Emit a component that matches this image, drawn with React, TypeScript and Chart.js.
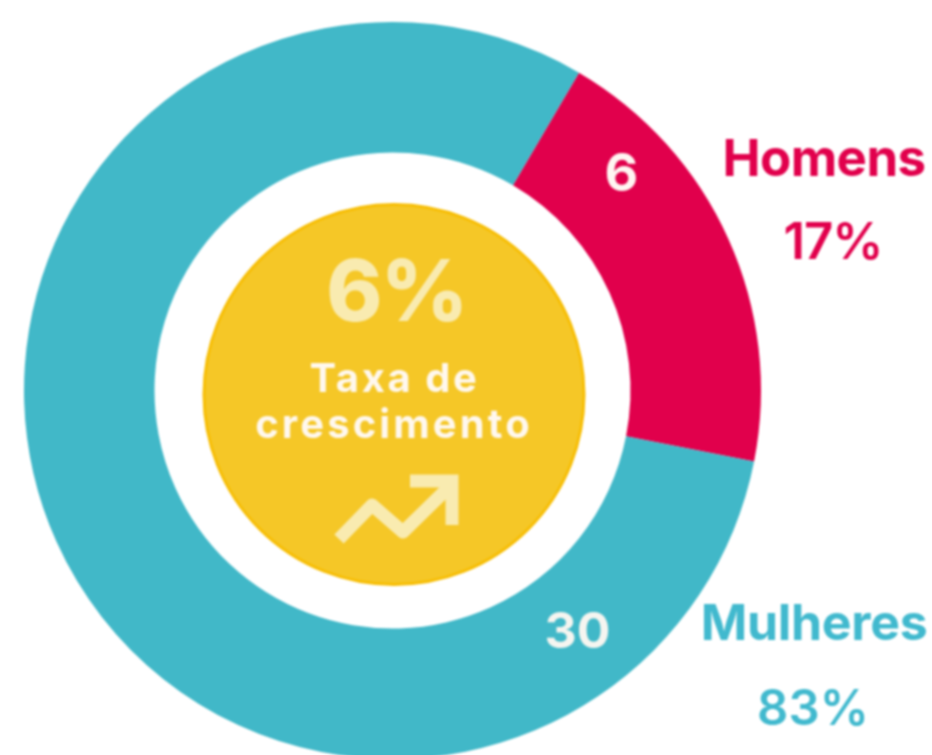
import React, { useEffect, useRef } from "react";
import { Chart, registerables } from "chart.js";

Chart.register(...registerables);

const categories = ["Homens", "Mulheres"];
const counts = ["6", "30"];
const percents = ["17%", "83%"];
const arcShares = [19.64, 80.36];
const ringColors = ["#E1004C", "#41B8C8"];
const labelColors = ["#E1004C", "#41B9CE"];
const growthValue = "6%";
const growthLines = ["Taxa de", "crescimento"];

const FONT = "Inter, 'Open Sans', sans-serif";

function text(ctx: CanvasRenderingContext2D, s: string, x: number, y: number, size: number, weight: number, color: string, spacing = 0) {
  ctx.font = `${weight} ${size}px ${FONT}`;
  (ctx as any).letterSpacing = `${spacing}px`;
  ctx.fillStyle = color;
  ctx.textAlign = "center";
  ctx.textBaseline = "alphabetic";
  ctx.fillText(s, x, y);
}

const overlay = {
  id: "overlay",
  afterDraw(chart: any) {
    const ctx: CanvasRenderingContext2D = chart.ctx;
    ctx.save();
    // central disc
    ctx.beginPath();
    ctx.arc(394, 394.5, 190, 0, Math.PI * 2);
    ctx.fillStyle = "#F5C727";
    ctx.fill();
    ctx.lineWidth = 3;
    ctx.strokeStyle = "#F7BE05";
    ctx.stroke();

    const cream = "#F9EBB0";
    text(ctx, growthValue, 396.5, 321, 85, 800, cream, -1.5);
    text(ctx, growthLines[0], 394.5, 392, 40, 700, "#FFF8EE", 2.6);
    text(ctx, growthLines[1], 394, 438, 40, 700, "#FFF8EE", 3.1);

    // trend arrow
    ctx.strokeStyle = cream;
    ctx.lineWidth = 13;
    ctx.lineJoin = "round";
    ctx.lineCap = "butt";
    ctx.beginPath();
    ctx.moveTo(339, 539);
    ctx.lineTo(372, 505);
    ctx.lineTo(403, 532);
    ctx.lineTo(448, 488);
    ctx.stroke();
    ctx.lineJoin = "miter";
    ctx.beginPath();
    ctx.moveTo(410, 481);
    ctx.lineTo(452, 481);
    ctx.lineTo(452, 525);
    ctx.stroke();

    // ring counts
    text(ctx, counts[0], 621.5, 191, 52, 700, "#FFF6F2");
    text(ctx, counts[1], 577.5, 648, 50, 700, "#F5F5F0");

    // side labels
    text(ctx, categories[0], 824, 176, 51, 700, labelColors[0], -0.6);
    text(ctx, percents[0], 833, 259, 51, 600, labelColors[0], -1);
    text(ctx, categories[1], 814, 640, 50, 700, labelColors[1], -0.3);
    text(ctx, percents[1], 813, 725, 49, 600, labelColors[1]);
    ctx.restore();
  },
};

export default function App() {
  const ref = useRef<HTMLCanvasElement>(null);
  useEffect(() => {
    document.body.style.margin = "0";
    const chart = new Chart(ref.current!, {
      type: "doughnut",
      data: {
        labels: categories,
        datasets: [{ data: arcShares, backgroundColor: ringColors, borderWidth: 0 }],
      },
      options: {
        animation: false,
        responsive: false,
        rotation: 30.4,
        cutout: 238,
        layout: { padding: { left: 24, right: 171, top: 22, bottom: 1 } },
        plugins: { legend: { display: false }, tooltip: { enabled: false }, title: { display: false } },
      },
      plugins: [overlay],
    });
    return () => chart.destroy();
  }, []);
  return (
    <div style={{ width: 932, height: 755, overflow: "hidden", background: "#fff" }}>
      <canvas ref={ref} width={932} height={760} style={{ display: "block", filter: "blur(1px)" }} />
    </div>
  );
}
